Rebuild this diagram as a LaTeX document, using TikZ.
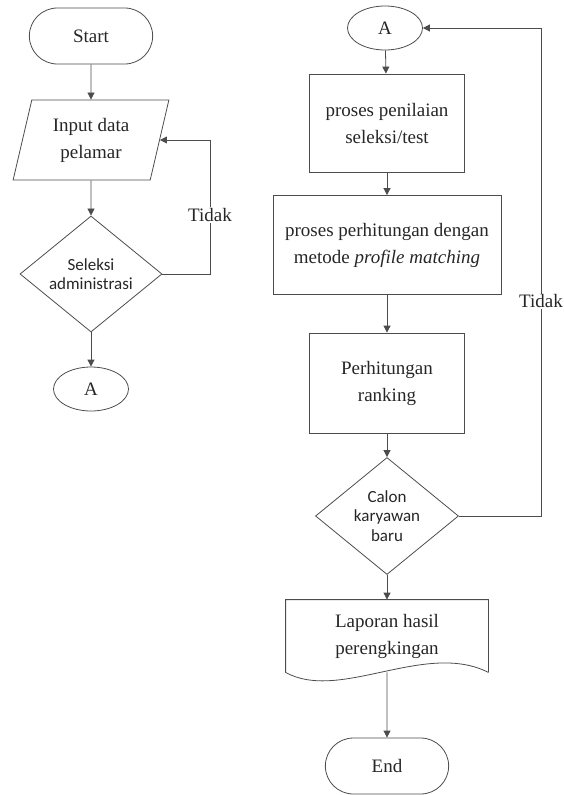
\documentclass[tikz,border=0pt]{standalone}
\usepackage{fontspec}
\setmainfont{Liberation Serif}
\newfontfamily\calibri{Carlito}
\usetikzlibrary{arrows.meta,positioning,calc,shapes.geometric,shapes.misc}

\begin{document}
\begin{tikzpicture}[
    x=1pt, y=-1pt,
    line width=0.8pt,
    >={Triangle[length=7pt,width=7pt]},
    every node/.style={font=\fontsize{19}{27}\selectfont, text=black!85},
    term/.style={draw=black!70, rounded rectangle, minimum width=130pt, minimum height=56pt, align=center},
    conn/.style={draw=black!70, ellipse, minimum width=75pt, minimum height=44pt, inner sep=0pt},
    proc/.style={draw=black!70, rectangle, minimum height=98pt, align=center},
    io/.style={draw=black!70, trapezium, trapezium left angle=76, trapezium right angle=104, trapezium stretches=true, minimum width=156pt, minimum height=80pt, inner xsep=2pt, align=center},
    decide/.style={draw=black!70, diamond, inner sep=0pt, align=center, font=\calibri\fontsize{17}{19.5}\selectfont},
    arr/.style={->, draw=black!70},
    lbl/.style={fill=white, inner sep=1pt}
]
\useasboundingbox (0,0) rectangle (563,795);

\node[term] (start) at (91,36) {Start};
\node[io] (input) at (91,140) {Input data\\pelamar};
\node[decide, minimum width=142pt, minimum height=116pt] (seleksi) at (91,274) {Seleksi\\administrasi};
\node[conn] (a1) at (91,389) {A};
\coordinate (loop1) at (210,274);

\draw[arr] (start) -- (input);
\draw[arr] (input) -- (seleksi);
\draw[arr] (seleksi) -- (a1);
\draw[arr] (seleksi.east) -- (loop1) |- node[lbl, pos=0.22] {Tidak} (input.east);

\node[conn] (a2) at (385,28) {A};
\node[proc, minimum width=155pt] (nilai) at (387,123) {proses penilaian\\seleksi/test};
\node[proc, minimum width=228pt, minimum height=99pt, inner xsep=2pt] (hitung) at (387,245) {proses perhitungan dengan\\metode \textit{profile matching}};
\node[proc, minimum width=155pt, minimum height=100pt] (rank) at (387,383) {Perhitungan\\ranking};
\node[decide, minimum width=143pt, minimum height=117pt] (calon) at (387,516) {Calon\\karyawan\\baru};
\node[minimum width=202pt, minimum height=72pt, align=center] (lap) at (387,636) {Laporan hasil\\perengkingan};
\node[term] (end) at (387,766) {End};
\coordinate (loop2) at (541,516);

\draw[draw=black!70] (lap.south east) -- (lap.north east) -- (lap.north west) -- (lap.south west)
    .. controls ($(lap.south west)+(54,30)$) and ($(lap.south east)+(-63,-32)$) .. (lap.south east);

\draw[arr] (a2) -- (nilai);
\draw[arr] (nilai) -- (hitung);
\draw[arr] (hitung) -- (rank);
\draw[arr] (rank) -- (calon);
\draw[arr] (calon) -- (lap);
\draw[arr] (lap.south) -- (end);
\draw[arr] (calon.east) -- (loop2) |- node[lbl, pos=0.22] {Tidak} (a2.east);
\end{tikzpicture}
\end{document}
